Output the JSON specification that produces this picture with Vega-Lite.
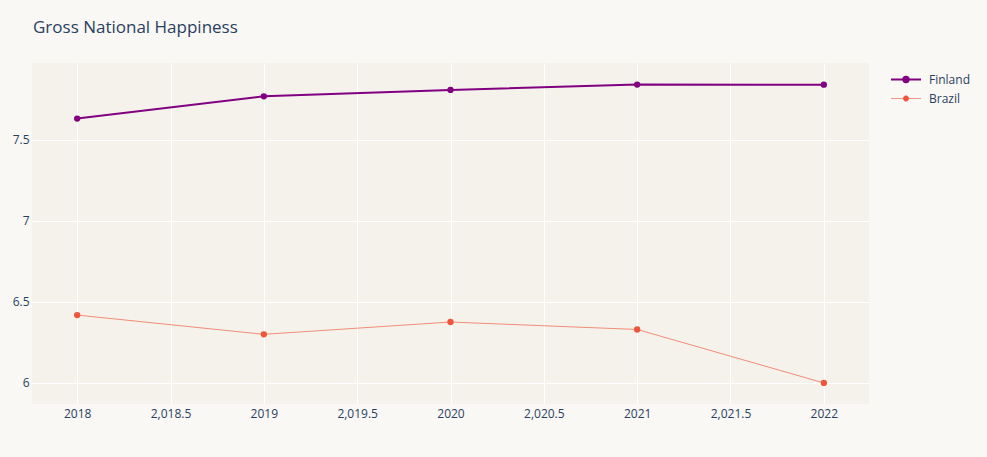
{
  "$schema": "https://vega.github.io/schema/vega-lite/v6.json",
  "autosize": {"type": "none"},
  "width": 837,
  "height": 341,
  "padding": {"left": 32, "top": 63, "right": 118, "bottom": 53},
  "background": "#f9f8f5",
  "title": {
    "text": "Gross National Happiness",
    "anchor": "start",
    "frame": "group",
    "font": "Open Sans",
    "fontSize": 17,
    "fontWeight": "normal",
    "color": "#2a3f5f",
    "baseline": "alphabetic",
    "offset": 13,
    "dx": 1
  },
  "config": {
    "view": {"stroke": null, "fill": "#f4f2eb"},
    "font": "Open Sans",
    "axis": {
      "domain": false,
      "ticks": false,
      "grid": true,
      "gridColor": "#ffffff",
      "gridWidth": 1,
      "labelFont": "Open Sans",
      "labelFontSize": 12,
      "labelColor": "#2a3f5f",
      "title": null
    }
  },
  "data": {
    "values": [
      {"year": 2018, "country": "Finland", "score": 7.632},
      {"year": 2019, "country": "Finland", "score": 7.769},
      {"year": 2020, "country": "Finland", "score": 7.809},
      {"year": 2021, "country": "Finland", "score": 7.842},
      {"year": 2022, "country": "Finland", "score": 7.841},
      {"year": 2018, "country": "Brazil", "score": 6.419},
      {"year": 2019, "country": "Brazil", "score": 6.3},
      {"year": 2020, "country": "Brazil", "score": 6.376},
      {"year": 2021, "country": "Brazil", "score": 6.33},
      {"year": 2022, "country": "Brazil", "score": 6.0}
    ]
  },
  "encoding": {
    "x": {
      "field": "year",
      "type": "quantitative",
      "scale": {"domain": [2017.758, 2022.242], "nice": false, "zero": false},
      "axis": {
        "values": [2018, 2018.5, 2019, 2019.5, 2020, 2020.5, 2021, 2021.5, 2022],
        "labelExpr": "datum.value % 1 == 0 ? format(datum.value, 'd') : format(datum.value, ',.1f')",
        "labelPadding": 4
      }
    },
    "y": {
      "field": "score",
      "type": "quantitative",
      "scale": {"domain": [5.87, 7.975], "nice": false, "zero": false},
      "axis": {
        "values": [6, 6.5, 7, 7.5],
        "labelExpr": "format(datum.value, '~g')",
        "labelPadding": 3
      }
    },
    "color": {
      "field": "country",
      "type": "nominal",
      "scale": {"domain": ["Finland", "Brazil"], "range": ["#800080", "#ef553b"]},
      "legend": {
        "title": null,
        "orient": "none",
        "legendX": 858,
        "legendY": 7,
        "symbolType": "M-1,0H1M-0.18,0A0.18,0.18,0,1,0,0.18,0A0.18,0.18,0,1,0,-0.18,0Z",
        "symbolSize": 900,
        "symbolStrokeWidth": 2,
        "symbolOpacity": 1,
        "labelFont": "Open Sans",
        "labelFontSize": 12,
        "labelColor": "#2a3f5f",
        "labelOffset": 7,
        "clipHeight": 19,
        "rowPadding": 0,
        "padding": 0,
        "encode": {
          "symbols": {
            "update": {
              "strokeWidth": {"signal": "datum.label == 'Finland' ? 2 : 1"},
              "strokeOpacity": {"signal": "datum.label == 'Finland' ? 1 : 0.6"}
            }
          }
        }
      }
    }
  },
  "layer": [
    {
      "mark": {"type": "line"},
      "encoding": {
        "strokeWidth": {
          "field": "country",
          "type": "nominal",
          "scale": {"domain": ["Finland", "Brazil"], "range": [2, 1]},
          "legend": null
        },
        "strokeOpacity": {
          "field": "country",
          "type": "nominal",
          "scale": {"domain": ["Finland", "Brazil"], "range": [1, 0.65]},
          "legend": null
        }
      }
    },
    {
      "mark": {"type": "point", "filled": true, "size": 40, "opacity": 1}
    }
  ]
}
